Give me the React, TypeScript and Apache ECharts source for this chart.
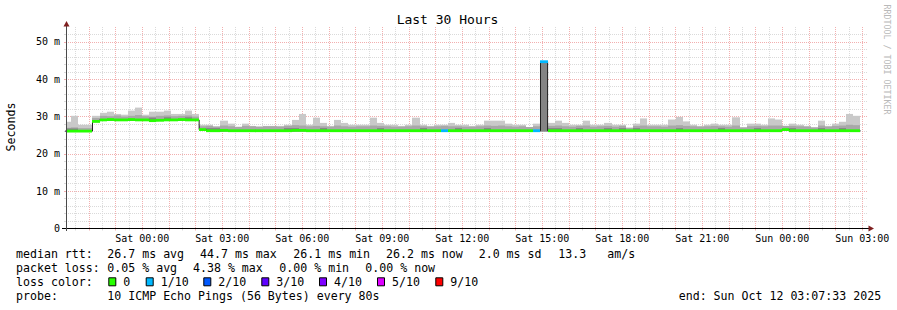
import React, { useEffect, useRef } from 'react';
import * as echarts from 'echarts';

// ---------------- data ----------------
// time axis: hours relative to Sat 00:00; each bin covers 16 minutes
const BIN_MINUTES = 16;
const FIRST_BIN_START_MIN = -176;

const medianRtt = [
  26.1, 26.1, 26.1, 26.1, 28.7, 29.1, 29.2, 29.1, 29.1, 29.2,
  29.1, 29.1, 28.9, 29.0, 29.1, 29.1, 29.2, 29.1, 29.1, 26.5,
  26.2, 26.2, 26.3, 26.2, 26.2, 26.2, 26.2, 26.2, 26.2, 26.2,
  26.2, 26.2, 26.3, 26.3, 26.2, 26.2, 26.2, 26.2, 26.2, 26.2,
  26.2, 26.2, 26.2, 26.2, 26.2, 26.2, 26.2, 26.2, 26.2, 26.2,
  26.2, 26.2, 26.2, 26.2, 26.2, 26.2, 26.2, 26.2, 26.2, 26.2,
  26.2, 26.2, 26.2, 26.2, 26.2, 26.2, 26.2, 44.7, 26.2, 26.2,
  26.2, 26.2, 26.2, 26.2, 26.2, 26.2, 26.2, 26.2, 26.2, 26.2,
  26.2, 26.2, 26.2, 26.2, 26.2, 26.2, 26.2, 26.2, 26.2, 26.2,
  26.2, 26.2, 26.2, 26.2, 26.2, 26.2, 26.2, 26.2, 26.2, 26.2,
  26.2, 26.5, 26.2, 26.2, 26.2, 26.2, 26.2, 26.2, 26.2, 26.2, 26.2, 26.2,
];

const maxRtt = [
  28.6, 30.2, 27.8, 27.8, 30.2, 31.0, 31.3, 30.7, 30.5, 31.6,
  32.4, 30.5, 31.3, 31.3, 31.6, 30.7, 30.7, 31.6, 30.7, 27.8,
  27.8, 27.4, 28.9, 28.1, 27.3, 28.1, 27.5, 27.3, 27.5, 27.5,
  27.5, 27.8, 29.1, 30.7, 27.8, 29.7, 28.3, 27.5, 29.1, 28.3,
  27.8, 27.8, 27.8, 29.7, 28.3, 27.8, 27.8, 27.5, 27.8, 29.7,
  27.8, 27.5, 27.8, 27.8, 28.3, 27.8, 27.8, 27.5, 27.8, 28.9,
  28.9, 28.9, 28.1, 27.8, 27.8, 27.2, 28.1, 44.8, 28.3, 28.9,
  28.3, 27.8, 27.8, 28.9, 27.8, 27.8, 28.3, 27.8, 27.8, 27.0,
  28.1, 29.5, 27.8, 27.8, 27.8, 29.2, 29.9, 28.7, 27.8, 27.5,
  27.8, 28.1, 27.8, 27.8, 29.8, 27.1, 28.1, 28.1, 27.8, 29.5,
  29.2, 27.5, 28.1, 27.8, 27.5, 27.1, 28.9, 27.5, 28.1, 28.6, 30.7, 30.2,
];

const highRtt = [
  27.0, 27.1, 26.9, 26.9, 29.6, 30.2, 30.1, 30.3, 30.0, 30.2,
  30.4, 30.1, 30.0, 30.2, 30.3, 30.1, 30.2, 30.3, 30.0, 27.4,
  27.5, 27.3, 27.6, 27.4, 27.2, 27.5, 27.4, 27.3, 27.4, 27.4,
  27.3, 27.5, 27.7, 27.6, 27.4, 27.5, 27.4, 27.3, 27.6, 27.4,
  27.3, 27.4, 27.4, 27.6, 27.5, 27.4, 27.3, 27.3, 27.4, 27.6,
  27.4, 27.3, 27.4, 27.5, 27.4, 27.4, 27.3, 27.3, 27.4, 27.6,
  27.5, 27.6, 27.4, 27.3, 27.4, 27.2, 27.4, 44.7, 27.5, 27.6,
  27.4, 27.3, 27.5, 27.6, 27.3, 27.4, 27.5, 27.3, 27.5, 27.0,
  27.5, 27.6, 27.4, 27.4, 27.3, 27.6, 27.7, 27.5, 27.4, 27.3,
  27.4, 27.5, 27.4, 27.3, 27.6, 27.1, 27.4, 27.5, 27.4, 27.6,
  27.6, 27.5, 27.5, 27.4, 27.3, 27.1, 27.6, 27.3, 27.5, 27.6, 27.8, 27.7,
];

const darkRtt = [
  26.8, 26.8, 26.1, 26.1, 28.7, 29.1, 29.2, 29.1, 29.1, 29.2,
  29.1, 29.1, 29.7, 29.0, 29.8, 29.1, 29.2, 29.8, 29.1, 26.5,
  26.9, 26.9, 26.3, 26.2, 26.2, 26.2, 26.2, 26.2, 26.2, 26.2,
  26.2, 26.9, 26.9, 26.3, 26.2, 26.2, 26.9, 26.2, 26.2, 26.2,
  26.2, 26.2, 26.2, 26.2, 26.9, 26.2, 26.2, 26.2, 26.2, 26.2,
  26.9, 26.2, 26.2, 26.2, 26.2, 26.9, 26.2, 26.2, 26.2, 26.9,
  26.2, 26.2, 26.2, 26.2, 26.2, 26.2, 26.2, 44.7, 26.9, 26.9,
  26.2, 26.2, 26.9, 26.2, 26.2, 26.2, 26.9, 26.2, 26.9, 26.2,
  26.9, 26.2, 26.2, 26.2, 26.2, 26.2, 26.9, 26.2, 26.2, 26.2,
  26.2, 26.2, 26.9, 26.2, 26.2, 26.2, 26.2, 26.9, 26.2, 26.2,
  26.2, 26.5, 26.9, 26.2, 26.2, 26.2, 26.9, 26.2, 26.2, 26.9, 26.2, 26.2,
];

const minRtt = [
  25.9, 25.9, 25.9, 25.9, 28.5, 28.9, 28.9, 28.9, 28.9, 28.9,
  28.9, 28.9, 28.7, 28.9, 28.9, 28.9, 28.9, 28.9, 28.9, 26.3,
  26.0, 26.0, 26.0, 26.0, 26.0, 26.0, 26.0, 26.0, 26.0, 26.0,
  26.0, 26.0, 26.0, 26.0, 26.0, 26.0, 26.0, 26.0, 26.0, 26.0,
  26.0, 26.0, 26.0, 26.0, 26.0, 26.0, 26.0, 26.0, 26.0, 26.0,
  26.0, 26.0, 26.0, 26.0, 26.0, 26.0, 26.0, 26.0, 26.0, 26.0,
  26.0, 26.0, 26.0, 26.0, 26.0, 26.0, 26.0, 26.0, 26.0, 26.0,
  26.0, 26.0, 26.0, 26.0, 26.0, 26.0, 26.0, 26.0, 26.0, 26.0,
  26.0, 26.0, 26.0, 26.0, 26.0, 26.0, 26.0, 26.0, 26.0, 26.0,
  26.0, 26.0, 26.0, 26.0, 26.0, 26.0, 26.0, 26.0, 26.0, 26.0,
  26.0, 26.3, 26.0, 26.0, 26.0, 26.0, 26.0, 26.0, 26.0, 26.0, 26.0, 26.0,
];

// lost pings out of 10 in each bin
const lossCount = [
  0, 0, 0, 0, 0, 0, 0, 0, 0, 0,
  0, 0, 0, 0, 0, 0, 0, 0, 0, 0,
  0, 0, 0, 0, 0, 0, 0, 0, 0, 0,
  0, 0, 0, 0, 0, 0, 0, 0, 0, 0,
  0, 0, 0, 0, 0, 0, 0, 0, 0, 0,
  0, 0, 0, 1, 0, 0, 0, 0, 0, 0,
  0, 0, 0, 0, 0, 0, 1, 1, 0, 0,
  0, 0, 0, 0, 0, 0, 0, 0, 0, 0,
  0, 0, 0, 0, 0, 0, 0, 0, 0, 0,
  0, 0, 0, 0, 0, 0, 0, 0, 0, 0,
  0, 0, 0, 0, 0, 0, 0, 0, 0, 0, 0, 0,
];

const xTickLabels = ['Sat 00:00', 'Sat 03:00', 'Sat 06:00', 'Sat 09:00', 'Sat 12:00', 'Sat 15:00', 'Sat 18:00', 'Sat 21:00', 'Sun 00:00', 'Sun 03:00'];
const yTickLabels = ['0', '10 m', '20 m', '30 m', '40 m', '50 m'];

const lossLevelLabels = ['0', '1/10', '2/10', '3/10', '4/10', '5/10', '9/10'];
const lossLevelColors = ['#26ff00', '#00b8ff', '#0059ff', '#5e00ff', '#7e00ff', '#dd00ff', '#ff0000'];
const lossColorByCount = ['#26ff00', '#00b8ff', '#0059ff', '#5e00ff', '#7e00ff', '#dd00ff', '#dd00ff', '#dd00ff', '#dd00ff', '#ff0000', '#ff0000'];

const titleText = 'Last 30 Hours';
const yAxisTitle = 'Seconds';
const watermark = 'RRDTOOL / TOBI OETIKER';
const rttRow = ['median rtt:', '26.7 ms avg', '44.7 ms max', '26.1 ms min', '26.2 ms now', '2.0 ms sd', '13.3', 'am/s'];
const lossRow = ['packet loss:', '0.05 % avg', '4.38 % max', '0.00 % min', '0.00 % now'];
const lossColorTitle = 'loss color:';
const probeRow = ['probe:', '10 ICMP Echo Pings (56 Bytes) every 80s'];
const endText = 'end: Sun Oct 12 03:07:33 2025';

// ---------------- layout ----------------
const W = 897;
const H = 310;
const FONT = '"DejaVu Sans Mono", monospace';
const PLOT_LEFT = 66;
const PLOT_TOP = 27;
const PLOT_W = 800;
const PLOT_H = 201.5;
const X_MIN = -2.86;
const X_MAX = 27.14;
const Y_MAX = 54;
const PPH = PLOT_W / (X_MAX - X_MIN);
const PPM = PLOT_H / Y_MAX;
const xPix = (h: number) => PLOT_LEFT + (h - X_MIN) * PPH;
const yPix = (v: number) => PLOT_TOP + PLOT_H - v * PPM;

const GRID_GREY = '#dadada';
const GRID_RED = '#f2afaf';
const SMOKE_LIGHT = '#c9c9c9';
const SMOKE_MID = '#a8a8a8';
const SMOKE_DARK = '#848484';

const rttX = [16, 107.3, 200, 293.3, 386, 478.7, 558.3, 607.3];
const lossX = [16, 107.3, 193, 279.3, 365.3];
const boxX = [108.3, 145.7, 203.3, 261.3, 319, 377, 435.3];
const rowY = [254.3, 268.3, 282.3, 296.3];

function buildOption() {
  const binH = BIN_MINUTES / 60;
  const binStart = medianRtt.map((_, k) => (FIRST_BIN_START_MIN + k * BIN_MINUTES) / 60);

  const clipX = (a: number, b: number, cs: any) => {
    const x0 = Math.max(Math.round(a), cs.x);
    const x1 = Math.min(Math.round(b), cs.x + cs.width);
    return [x0, x1];
  };

  const smoke = (lows: number[], highs: number[], color: string) => ({
    type: 'custom',
    xAxisIndex: 0,
    yAxisIndex: 0,
    z: 2,
    silent: true,
    encode: { x: [0, 1], y: [2, 3] },
    data: medianRtt.map((_, k) => [binStart[k], binStart[k] + binH, lows[k], highs[k]]),
    renderItem: (params: any, api: any) => {
      const a = api.coord([api.value(0), api.value(3)]);
      const b = api.coord([api.value(1), api.value(2)]);
      const [x0, x1] = clipX(a[0], b[0], params.coordSys);
      if (x1 <= x0 || b[1] <= a[1]) return null;
      return { type: 'rect', shape: { x: x0, y: a[1], width: x1 - x0, height: b[1] - a[1] }, style: { fill: color } };
    },
  });

  const medianLine = medianRtt.map((m, k) => [binStart[k], m]);
  medianLine.push([binStart[binStart.length - 1] + binH, medianRtt[medianRtt.length - 1]]);

  const hiddenAxis = (gridIndex: number, min: number, max: number) => ({
    type: 'value', gridIndex, min, max, show: false,
  });

  const gridBase = { top: PLOT_TOP, height: PLOT_H };
  const grids = [
    { left: PLOT_LEFT, width: PLOT_W, ...gridBase },
    { left: xPix(-2.5), width: 29 * PPH, ...gridBase },
    { left: xPix(-2), width: 29 * PPH, ...gridBase },
    { left: xPix(0), width: 27 * PPH, ...gridBase },
    { left: PLOT_LEFT, width: PLOT_W + 2, top: yPix(52), height: 52 * PPM },
    { left: PLOT_LEFT, width: PLOT_W + 2, top: yPix(50), height: 50 * PPM },
  ];

  const xAxes = [
    hiddenAxis(0, X_MIN, X_MAX),
    {
      type: 'value', gridIndex: 1, min: -2.5, max: 26.5, interval: 1, z: 0,
      axisLine: { show: false }, axisLabel: { show: false },
      axisTick: { show: true, length: 2, lineStyle: { color: GRID_GREY } },
      splitLine: { show: true, lineStyle: { color: GRID_GREY, width: 1, type: [1, 1] } },
    },
    {
      type: 'value', gridIndex: 2, min: -2, max: 27, interval: 1, z: 1,
      axisLine: { show: false }, axisLabel: { show: false },
      axisTick: { show: true, length: 2, lineStyle: { color: GRID_RED } },
      splitLine: { show: true, lineStyle: { color: GRID_RED, width: 1, type: [1, 1] } },
    },
    {
      type: 'value', gridIndex: 3, min: 0, max: 27, interval: 3, z: 1,
      axisLine: { show: false }, axisTick: { show: false }, splitLine: { show: false },
      axisLabel: {
        show: true, margin: 5, fontFamily: FONT, fontSize: 10, color: '#000',
        formatter: (v: number) => xTickLabels[Math.round(v / 3)] ?? '',
      },
    },
    hiddenAxis(4, 0, 1),
    hiddenAxis(5, 0, 1),
  ];

  const yAxes = [
    hiddenAxis(0, 0, Y_MAX),
    hiddenAxis(1, 0, 1),
    hiddenAxis(2, 0, 1),
    hiddenAxis(3, 0, 1),
    {
      type: 'value', gridIndex: 4, min: 0, max: 52, interval: 2, z: 0,
      axisLine: { show: false }, axisLabel: { show: false },
      axisTick: { show: true, length: 2, lineStyle: { color: GRID_GREY } },
      splitLine: { show: true, lineStyle: { color: GRID_GREY, width: 1, type: [1, 1] } },
    },
    {
      type: 'value', gridIndex: 5, min: 0, max: 50, interval: 10, z: 1,
      axisLine: { show: false },
      axisTick: { show: true, length: 2, lineStyle: { color: GRID_RED } },
      splitLine: { show: true, lineStyle: { color: GRID_RED, width: 1, type: [1, 1] } },
      axisLabel: {
        show: true, margin: 6, fontFamily: FONT, fontSize: 10, color: '#000',
        formatter: (v: number) => yTickLabels[Math.round(v / 10)] ?? '',
      },
    },
  ];

  const txt = (text: string, x: number, y: number, extra: any = {}) => ({
    type: 'text', x, y, z: 100, silent: true,
    style: { text, fontFamily: FONT, fontSize: 11.6, fill: '#000', align: 'left', verticalAlign: 'middle', ...extra },
  });

  const graphics: any[] = [
    // axes
    { type: 'line', z: 90, silent: true, shape: { x1: 62, y1: 228.5, x2: 869, y2: 228.5 }, style: { stroke: '#000', lineWidth: 1 } },
    { type: 'line', z: 90, silent: true, shape: { x1: 66.5, y1: 231, x2: 66.5, y2: 26 }, style: { stroke: '#4a4a4a', lineWidth: 1 } },
    { type: 'polygon', z: 91, silent: true, shape: { points: [[868.5, 225.5], [874, 228.5], [868.5, 231.5]] }, style: { fill: '#7f1f1f' } },
    { type: 'polygon', z: 91, silent: true, shape: { points: [[63.5, 26.5], [66.5, 21], [69.5, 26.5]] }, style: { fill: '#7f1f1f' } },
    // title and side texts
    txt(titleText, 447.5, 19.5, { fontSize: 13, align: 'center' }),
    txt(yAxisTitle, 11, 127, { align: 'center' }),
    txt(watermark, 886.5, 59.5, { fontSize: 8.3, align: 'center', fill: '#b9b9b9' }),
  ];
  graphics[5].rotation = Math.PI / 2;
  graphics[6].rotation = -Math.PI / 2;

  rttRow.forEach((t, i) => graphics.push(txt(t, rttX[i], rowY[0])));
  lossRow.forEach((t, i) => graphics.push(txt(t, lossX[i], rowY[1])));
  graphics.push(txt(lossColorTitle, 16, rowY[2]));
  lossLevelLabels.forEach((t, i) => {
    graphics.push({
      type: 'rect', z: 100, silent: true,
      shape: { x: boxX[i] + 0.5, y: rowY[2] - 4.5, width: 7, height: 8 },
      style: { fill: lossLevelColors[i], stroke: '#000', lineWidth: 1 },
    });
    graphics.push(txt(t, boxX[i] + 15, rowY[2]));
  });
  graphics.push(txt(probeRow[0], 16, rowY[3]));
  graphics.push(txt(probeRow[1], 107.3, rowY[3]));
  graphics.push(txt(endText, 678.7, rowY[3]));

  return {
    animation: false,
    backgroundColor: '#ffffff',
    grid: grids,
    xAxis: xAxes,
    yAxis: yAxes,
    series: [
      smoke(minRtt, maxRtt, SMOKE_LIGHT),
      smoke(minRtt, highRtt, SMOKE_MID),
      smoke(minRtt, darkRtt, SMOKE_DARK),
      {
        type: 'line', xAxisIndex: 0, yAxisIndex: 0, z: 3, data: medianLine, step: 'end',
        symbol: 'none', silent: true, clip: true, lineStyle: { color: '#202020', width: 1 },
      },
      {
        type: 'custom', xAxisIndex: 0, yAxisIndex: 0, z: 4, silent: true,
        encode: { x: [0, 1], y: 2 },
        data: medianRtt.map((m, k) => [binStart[k], binStart[k] + binH, m, lossCount[k]]),
        renderItem: (params: any, api: any) => {
          const a = api.coord([api.value(0), api.value(2)]);
          const b = api.coord([api.value(1), api.value(2)]);
          const [x0, x1] = clipX(a[0], b[0], params.coordSys);
          if (x1 <= x0) return null;
          return {
            type: 'rect',
            shape: { x: x0, y: a[1] - 1.4, width: x1 - x0, height: 2.8 },
            style: { fill: lossColorByCount[api.value(3)] },
          };
        },
      },
    ],
    graphic: graphics,
  };
}

export default function App() {
  const ref = useRef<HTMLDivElement>(null);
  useEffect(() => {
    document.body.style.margin = '0';
    const chart = echarts.init(ref.current as HTMLDivElement, null, { renderer: 'svg' });
    chart.setOption(buildOption() as any);
    return () => chart.dispose();
  }, []);
  return <div ref={ref} style={{ width: W, height: H, background: '#fff' }} />;
}
